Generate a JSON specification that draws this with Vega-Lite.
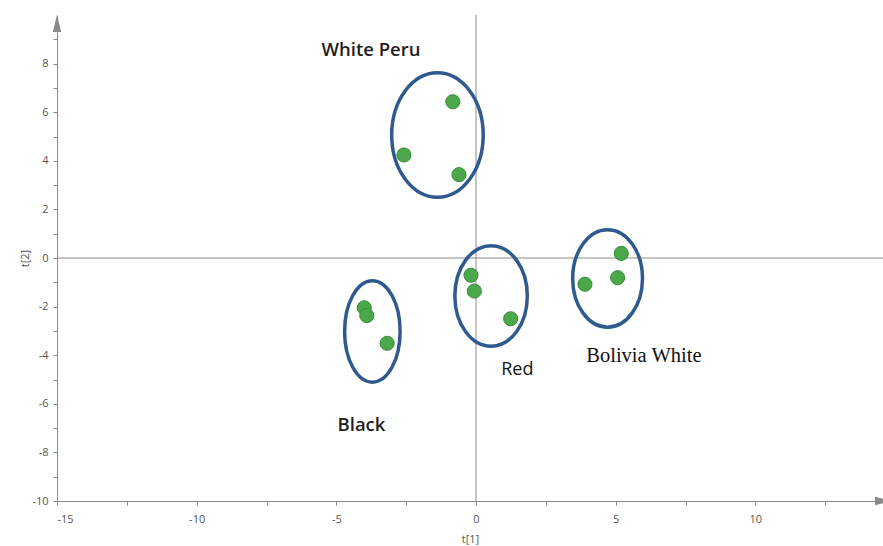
{
  "$schema": "https://vega.github.io/schema/vega-lite/v6.json",
  "width": 826,
  "height": 486,
  "autosize": {"type": "none"},
  "padding": {"left": 57, "top": 15, "right": 0, "bottom": 45},
  "background": "white",
  "config": {
    "view": {"stroke": null},
    "axis": {
      "domainColor": "#8a8a8a",
      "tickColor": "#8a8a8a",
      "labelColor": "#555555",
      "titleColor": "#555555",
      "labelFont": "Open Sans",
      "titleFont": "Open Sans",
      "labelFontSize": 11,
      "titleFontSize": 11,
      "titleFontWeight": "normal",
      "grid": false,
      "tickSize": 4
    }
  },
  "datasets": {
    "scores": [
      {"group": "White Peru", "t1": -0.83, "t2": 6.43},
      {"group": "White Peru", "t1": -2.58, "t2": 4.24},
      {"group": "White Peru", "t1": -0.61, "t2": 3.43},
      {"group": "Black", "t1": -4.0, "t2": -2.05},
      {"group": "Black", "t1": -3.91, "t2": -2.37},
      {"group": "Black", "t1": -3.18, "t2": -3.51},
      {"group": "Red", "t1": -0.18, "t2": -0.71},
      {"group": "Red", "t1": -0.06, "t2": -1.36},
      {"group": "Red", "t1": 1.24, "t2": -2.5},
      {"group": "Bolivia White", "t1": 5.2, "t2": 0.19},
      {"group": "Bolivia White", "t1": 5.07, "t2": -0.81},
      {"group": "Bolivia White", "t1": 3.9, "t2": -1.08}
    ],
    "clusters": [
      {"group": "White Peru", "t1": -1.38, "t2": 5.06},
      {"group": "Red", "t1": 0.54, "t2": -1.56},
      {"group": "Bolivia White", "t1": 4.71, "t2": -0.84},
      {"group": "Black", "t1": -3.71, "t2": -3.02}
    ],
    "labels": [
      {"group": "White Peru", "t1": -3.76, "t2": 8.55},
      {"group": "Black", "t1": -4.1, "t2": -6.87},
      {"group": "Red", "t1": 1.48, "t2": -4.62},
      {"group": "Bolivia White", "t1": 6.01, "t2": -4.03}
    ],
    "origin": [{"t1": 0, "t2": 0}],
    "arrows": [{"axis": "t2", "t1": -15, "t2": 10}, {"axis": "t1", "t1": 14.89, "t2": -10}]
  },
  "encoding": {
    "x": {
      "field": "t1",
      "type": "quantitative",
      "scale": {"domain": [-15, 14.57], "nice": false, "zero": false},
      "axis": {
        "title": "t[1]",
        "values": [-15, -12.5, -10, -7.5, -5, -2.5, 0, 2.5, 5, 7.5, 10, 12.5],
        "labelExpr": "datum.value % 5 === 0 ? '' + datum.value : ''",
        "labelPadding": 8,
        "titlePadding": 9
      }
    },
    "y": {
      "field": "t2",
      "type": "quantitative",
      "scale": {"domain": [-10, 10], "nice": false, "zero": false},
      "axis": {
        "title": "t[2]",
        "values": [-10, -9, -8, -7, -6, -5, -4, -3, -2, -1, 0, 1, 2, 3, 4, 5, 6, 7, 8, 9],
        "labelExpr": "datum.value % 2 === 0 ? '' + datum.value : ''",
        "labelPadding": 5,
        "titleX": -27
      }
    }
  },
  "layer": [
    {
      "data": {"name": "origin"},
      "mark": {"type": "rule", "color": "#8a8a8a", "strokeWidth": 1},
      "encoding": {"x": null}
    },
    {
      "data": {"name": "origin"},
      "mark": {"type": "rule", "color": "#8a8a8a", "strokeWidth": 1},
      "encoding": {"y": null}
    },
    {
      "data": {"name": "clusters"},
      "transform": [{"filter": "datum.group === 'White Peru'"}],
      "mark": {"type": "point", "filled": false, "stroke": "#2f5a8e", "strokeWidth": 3.5, "opacity": 1, "size": 15500,
               "shape": "M-0.735,0A0.735,1,0,1,0,0.735,0A0.735,1,0,1,0,-0.735,0Z"}
    },
    {
      "data": {"name": "clusters"},
      "transform": [{"filter": "datum.group === 'Red'"}],
      "mark": {"type": "point", "filled": false, "stroke": "#2f5a8e", "strokeWidth": 3.5, "opacity": 1, "size": 10100,
               "shape": "M-0.721,0A0.721,1,0,1,0,0.721,0A0.721,1,0,1,0,-0.721,0Z"}
    },
    {
      "data": {"name": "clusters"},
      "transform": [{"filter": "datum.group === 'Bolivia White'"}],
      "mark": {"type": "point", "filled": false, "stroke": "#2f5a8e", "strokeWidth": 3.5, "opacity": 1, "size": 9506,
               "shape": "M-0.716,0A0.716,1,0,1,0,0.716,0A0.716,1,0,1,0,-0.716,0Z"}
    },
    {
      "data": {"name": "clusters"},
      "transform": [{"filter": "datum.group === 'Black'"}],
      "mark": {"type": "point", "filled": false, "stroke": "#2f5a8e", "strokeWidth": 3.5, "opacity": 1, "size": 10302,
               "shape": "M-0.547,0A0.547,1,0,1,0,0.547,0A0.547,1,0,1,0,-0.547,0Z"}
    },
    {
      "data": {"name": "scores"},
      "mark": {"type": "circle", "size": 200, "fill": "#4aa84a", "stroke": "#3a8a3a", "strokeWidth": 1, "opacity": 1}
    },
    {
      "data": {"name": "labels"},
      "transform": [{"filter": {"field": "group", "oneOf": ["White Peru", "Black"]}}],
      "mark": {"type": "text", "font": "Open Sans", "fontSize": 18.5, "fontWeight": 600, "color": "#1f1f1f", "align": "center", "baseline": "middle"},
      "encoding": {"text": {"field": "group"}}
    },
    {
      "data": {"name": "labels"},
      "transform": [{"filter": {"field": "group", "oneOf": ["Red"]}}],
      "mark": {"type": "text", "font": "Open Sans", "fontSize": 18, "color": "#111111", "align": "center", "baseline": "middle"},
      "encoding": {"text": {"field": "group"}}
    },
    {
      "data": {"name": "labels"},
      "transform": [{"filter": {"field": "group", "oneOf": ["Bolivia White"]}}],
      "mark": {"type": "text", "font": "Liberation Serif", "fontSize": 20.5, "color": "#111111", "align": "center", "baseline": "middle"},
      "encoding": {"text": {"field": "group"}}
    },
    {
      "data": {"name": "arrows"},
      "transform": [{"filter": "datum.axis === 't2'"}],
      "mark": {"type": "point", "filled": true, "fill": "#8a8a8a", "stroke": null, "opacity": 1, "size": 289,
               "shape": "M0,0L0.5,2L-0.5,2Z"}
    },
    {
      "data": {"name": "arrows"},
      "transform": [{"filter": "datum.axis === 't1'"}],
      "mark": {"type": "point", "filled": true, "fill": "#8a8a8a", "stroke": null, "opacity": 1, "size": 289,
               "shape": "M0,0L-2,-0.5L-2,0.5Z"}
    }
  ]
}
